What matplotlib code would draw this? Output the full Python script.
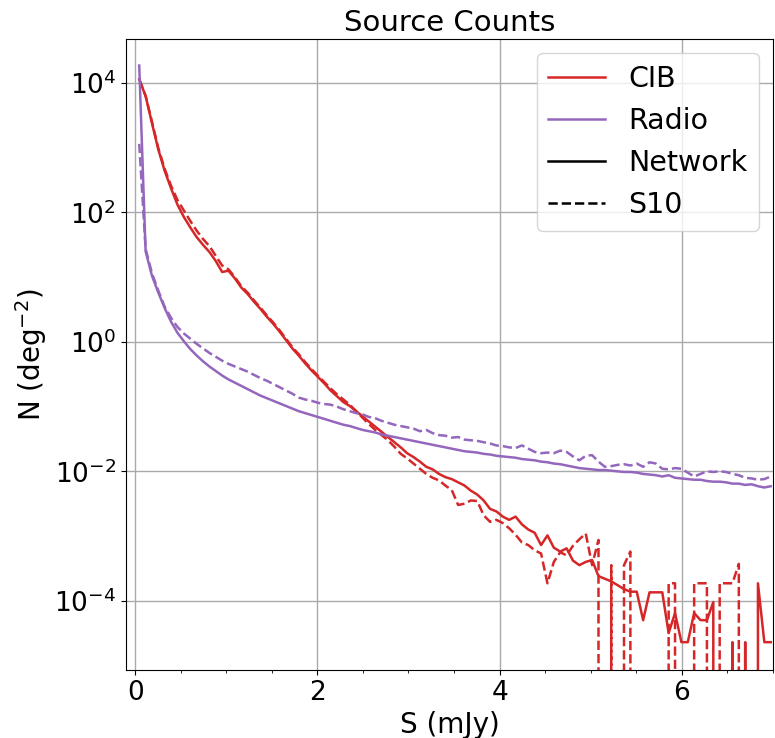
import numpy as np
import matplotlib
matplotlib.use('Agg')
import matplotlib.pyplot as plt
from matplotlib.ticker import MultipleLocator

Z = -np.inf  # empty bin -> N = 0

# flux bin centres (mJy)
S = [0.045, 0.115, 0.185, 0.255, 0.325, 0.395, 0.465, 0.535, 0.605, 0.675,
     0.745, 0.815, 0.885, 0.955, 1.025, 1.095, 1.165, 1.235, 1.305, 1.375,
     1.445, 1.515, 1.585, 1.655, 1.725, 1.795, 1.865, 1.935, 2.005, 2.075,
     2.145, 2.215, 2.285, 2.355, 2.425, 2.495, 2.565, 2.635, 2.705, 2.775,
     2.845, 2.915, 2.985, 3.055, 3.125, 3.195, 3.265, 3.335, 3.405, 3.475,
     3.545, 3.615, 3.685, 3.755, 3.825, 3.895, 3.965, 4.035, 4.105, 4.175,
     4.245, 4.315, 4.385, 4.455, 4.525, 4.595, 4.665, 4.735, 4.805, 4.875,
     4.945, 5.015, 5.085, 5.155, 5.225, 5.295, 5.365, 5.435, 5.505, 5.575,
     5.645, 5.715, 5.785, 5.855, 5.925, 5.995, 6.065, 6.135, 6.205, 6.275,
     6.345, 6.415, 6.485, 6.555, 6.625, 6.695, 6.765, 6.835, 6.905, 6.975]

# log10 N (deg^-2)
cib_net = [4.06, 3.80, 3.38, 2.97, 2.64, 2.37, 2.12, 1.93, 1.77, 1.62,
           1.50, 1.39, 1.25, 1.08, 1.10, 0.98, 0.84, 0.74, 0.62, 0.51,
           0.39, 0.28, 0.16, 0.03, -0.10, -0.21, -0.33, -0.44, -0.54, -0.64,
           -0.75, -0.84, -0.93, -0.99, -1.07, -1.15, -1.23, -1.31, -1.39, -1.47,
           -1.55, -1.63, -1.72, -1.78, -1.85, -1.93, -1.97, -2.04, -2.09, -2.12,
           -2.17, -2.22, -2.30, -2.36, -2.45, -2.58, -2.62, -2.70, -2.75, -2.70,
           -2.82, -2.90, -2.95, -3.14, -2.99, -3.18, -3.24, -3.19, -3.38, -3.45,
           -3.40, -3.37, -3.62, -3.66, -3.70, -3.76, -3.82, -3.86, -3.86, -4.30,
           -3.87, -3.87, -3.87, -4.50, -4.19, -4.64, -4.64, -4.19, -4.30, -4.30,
           -4.02, Z, Z, -4.64, Z, -4.64, Z, -3.73, -4.64, -4.64]

cib_s10 = [4.06, 3.80, 3.40, 2.99, 2.67, 2.41, 2.19, 2.03, 1.87, 1.72,
           1.59, 1.48, 1.33, 1.18, 1.12, 1.00, 0.86, 0.76, 0.64, 0.53,
           0.41, 0.30, 0.18, 0.05, -0.08, -0.19, -0.31, -0.42, -0.52, -0.62,
           -0.72, -0.81, -0.89, -0.97, -1.07, -1.17, -1.27, -1.36, -1.44, -1.52,
           -1.62, -1.73, -1.80, -1.88, -1.96, -2.04, -2.10, -2.14, -2.22, -2.29,
           -2.52, -2.50, -2.45, -2.46, -2.68, -2.78, -2.75, -2.80, -2.88, -2.98,
           -3.10, -3.14, -3.22, -3.27, -3.73, -3.40, -3.25, -3.30, -3.15, -3.05,
           -2.96, -3.45, -3.06, Z, -3.45, Z, -3.45, -3.24, Z, Z,
           Z, Z, Z, -3.73, -3.73, Z, Z, -3.73, -3.73, -3.73,
           Z, -3.73, -3.73, -3.73, -3.43, Z, Z, Z, Z, Z]

radio_net = [4.27, 1.40, 1.02, 0.76, 0.52, 0.31, 0.14, 0.01, -0.11, -0.21,
             -0.30, -0.38, -0.45, -0.52, -0.58, -0.63, -0.68, -0.73, -0.78, -0.83,
             -0.87, -0.91, -0.95, -0.99, -1.03, -1.07, -1.10, -1.13, -1.16, -1.19,
             -1.22, -1.25, -1.28, -1.30, -1.33, -1.36, -1.38, -1.40, -1.43, -1.45,
             -1.47, -1.49, -1.51, -1.53, -1.55, -1.57, -1.59, -1.61, -1.63, -1.65,
             -1.67, -1.69, -1.70, -1.71, -1.73, -1.74, -1.76, -1.77, -1.78, -1.79,
             -1.81, -1.82, -1.83, -1.85, -1.86, -1.88, -1.89, -1.91, -1.93, -1.95,
             -1.96, -1.97, -1.98, -1.98, -1.99, -2.00, -2.01, -2.01, -2.02, -2.04,
             -2.05, -2.06, -2.08, -2.06, -2.10, -2.11, -2.12, -2.13, -2.13, -2.15,
             -2.16, -2.16, -2.17, -2.19, -2.19, -2.21, -2.20, -2.23, -2.25, -2.23]

radio_s10 = [3.06, 1.44, 1.06, 0.79, 0.54, 0.37, 0.23, 0.13, 0.05, -0.03,
             -0.10, -0.17, -0.23, -0.29, -0.34, -0.38, -0.42, -0.46, -0.51, -0.56,
             -0.60, -0.65, -0.70, -0.75, -0.80, -0.86, -0.89, -0.91, -0.94, -0.96,
             -0.97, -1.00, -1.04, -1.07, -1.10, -1.12, -1.16, -1.18, -1.22, -1.25,
             -1.28, -1.30, -1.32, -1.34, -1.38, -1.36, -1.41, -1.44, -1.45, -1.48,
             -1.47, -1.51, -1.52, -1.53, -1.55, -1.57, -1.60, -1.61, -1.63, -1.64,
             -1.60, -1.65, -1.70, -1.72, -1.71, -1.72, -1.68, -1.70, -1.77, -1.83,
             -1.76, -1.75, -1.85, -1.93, -1.92, -1.90, -1.89, -1.91, -1.88, -1.93,
             -1.86, -1.88, -1.96, -1.97, -1.95, -1.96, -2.02, -2.08, -2.04, -2.00,
             -2.01, -2.00, -2.01, -2.04, -2.06, -2.10, -2.11, -2.13, -2.12, -2.08]

c_cib = '#d62728'
c_radio = '#9467bd'
lw = 1.8

fig = plt.figure(figsize=(7.75, 7.38), dpi=100)
ax = fig.add_axes([0.1626, 0.0921, 0.8348, 0.8551])

ax.plot(S, 10 ** np.array(cib_net), color=c_cib, lw=lw)
ax.plot(S, 10 ** np.array(cib_s10), color=c_cib, lw=lw, ls='--')
ax.plot(S, 10 ** np.array(radio_net), color=c_radio, lw=lw)
ax.plot(S, 10 ** np.array(radio_s10), color=c_radio, lw=lw, ls='--')
ax.set_yscale('log')

# legend proxies
ax.plot([], [], color=c_cib, lw=lw, label='CIB')
ax.plot([], [], color=c_radio, lw=lw, label='Radio')
ax.plot([], [], color='k', lw=lw, label='Network')
ax.plot([], [], color='k', lw=lw, ls='--', label='S10')

ax.set_xlim(-0.1, 7.0)
ax.set_ylim(8.5e-6, 4.8e4)
ax.set_yticks([1e-4, 1e-2, 1, 1e2, 1e4])
ax.yaxis.set_minor_locator(plt.NullLocator())
ax.xaxis.set_major_locator(MultipleLocator(2))
ax.xaxis.set_minor_locator(MultipleLocator(0.5))
ax.tick_params(labelsize=19)
ax.grid(True, which='major', color='#aaaaaa', lw=1)

ax.set_title('Source Counts', fontsize=21)
ax.set_xlabel('S (mJy)', fontsize=20)
ax.set_ylabel('N (deg$^{-2}$)', fontsize=20)
ax.legend(loc='upper right', fontsize=20.5)

fig.savefig('out.png', dpi=100)
